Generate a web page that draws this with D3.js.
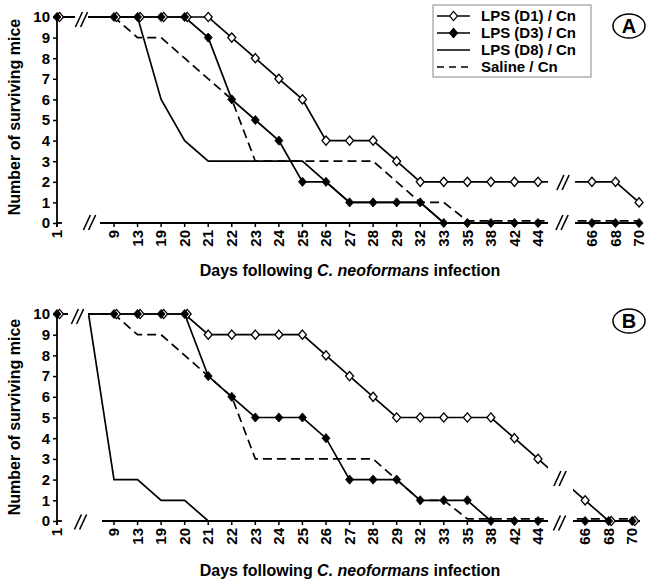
<!DOCTYPE html>
<html><head><meta charset="utf-8">
<script src="https://cdn.jsdelivr.net/npm/d3@7"></script>
<style>
body{margin:0;background:#fff}
svg{display:block}
text{font-family:"Liberation Sans",Arial,Helvetica,sans-serif;font-weight:bold;fill:#000}
</style>
</head><body>
<svg id="c" width="653" height="583"></svg>
<script>
// ---------- data ----------
const days = ["1","9","13","19","20","21","22","23","24","25","26","27","28","29","32","33","35","38","42","44","66","68","70"];
const yTicks = [0,1,2,3,4,5,6,7,8,9,10];
const seriesNames = ["LPS (D1) / Cn","LPS (D3) / Cn","LPS (D8) / Cn","Saline / Cn"];
const xTitle = ["Days following ","C. neoformans"," infection"];
const yTitle = "Number of surviving mice";

// Panel A
const aD1  = [10,10,10,10,10,10,9,8,7,6,4,4,4,3,2,2,2,2,2,2,2,2,1];
const aD3  = [10,10,10,10,10,9,6,5,4,2,2,1,1,1,1,0,0,0,0,0,0,0,0];
const aD8  = [10,10,10,6,4,3,3,3,3,3,2,1,1,1,1,0,0,0,0,0,0,0,0];
const aSal = [10,10,9,9,8,7,6,3,3,3,3,3,3,2,1,1,0.1,0.1,0.1,0.1,0.1,0.1,0.1];
// Panel B
const bD1  = [10,10,10,10,10,9,9,9,9,9,8,7,6,5,5,5,5,5,4,3,1,0,0];
const bD3  = [10,10,10,10,10,7,6,5,5,5,4,2,2,2,1,1,1,0,0,0,0,0,0];
const bD8  = [10,2,2,1,1,0,0,0,0,0,0,0,0,0,0,0,0,0,0,0,0,0,0];
const bSal = [10,10,9,9,8,7,6,3,3,3,3,3,3,2,1,1,0.1,0.1,0.1,0.1,0.1,0.1,0.1];

// ---------- layout ----------
const svg = d3.select("#c");
const xs = d3.scaleLinear().domain([0,18]).range([114,538]);
const AXIS_X = 57, AXIS_END = 640;
const panels = [
  {key:"A", d1:aD1, d3:aD3, d8:aD8, sal:aSal, yTop:17, yBot:223, rightOff:20.29,
   gapData:[75,88], gapAxis:[62,100], gapRight:[548,575],
   breaks:[[81.5,19.5],[89.5,222.5],[563,182.5],[562,222.5]],
   legend:true, labelY:26, titleY:276, yTitleY:117},
  {key:"B", d1:bD1, d3:bD3, d8:bD8, sal:bSal, yTop:314, yBot:521, rightOff:20.0,
   gapData:[68,88], gapAxis:[62,102], gapRight:[548,573],
   breaks:[[77.5,316.5],[80.5,522],[560,478.5],[559.5,523]],
   legend:false, labelY:321, titleY:576, yTitleY:417}
];

function slot(i, p){
  if (i === 0) return -2.42;
  if (i <= 19) return i - 1;
  return p.rightOff + (i - 20);
}
const HIDDEN_SLOT = -1.08;

const diamond = "M0,-4.6L4,0L0,4.6L-4,0Z";

panels.forEach(p => {
  const g = svg.append("g");
  const y = d3.scaleLinear().domain([0,10]).range([p.yBot, p.yTop]);
  const X = i => xs(slot(i,p));

  // clip for broken lines
  const cid = "clip"+p.key;
  const cp = g.append("clipPath").attr("id", cid);
  [[0,p.gapData[0]],[p.gapData[1],p.gapRight[0]],[p.gapRight[1],653]].forEach(([a,b])=>{
    cp.append("rect").attr("x",a).attr("y",p.yTop-20).attr("width",b-a).attr("height",p.yBot-p.yTop+40);
  });

  // y axis
  const yAx = d3.axisLeft(y).tickValues(yTicks).tickSize(4).tickPadding(3).tickSizeOuter(0);
  const ya = g.append("g").attr("transform",`translate(${AXIS_X},0)`).call(yAx);
  ya.select(".domain").remove();
  ya.selectAll("line").attr("stroke","#000").attr("stroke-width",1.5);
  ya.selectAll("text").style("font-size","15px").attr("fill","#000");
  g.append("line").attr("x1",AXIS_X).attr("x2",AXIS_X).attr("y1",p.yTop).attr("y2",p.yBot+4)
    .attr("stroke","#000").attr("stroke-width",1.8);

  // x axis line segments
  [[AXIS_X,p.gapAxis[0]],[p.gapAxis[1],p.gapRight[0]],[p.gapRight[1],AXIS_END]].forEach(([a,b])=>{
    g.append("line").attr("x1",a).attr("x2",b).attr("y1",p.yBot).attr("y2",p.yBot)
      .attr("stroke","#000").attr("stroke-width",1.8);
  });
  // x ticks + labels
  const xt = g.append("g").selectAll("g").data(days).join("g")
    .attr("transform",(d,i)=>`translate(${X(i)},${p.yBot})`);
  xt.append("line").attr("y1",0).attr("y2",4).attr("stroke","#000").attr("stroke-width",1.5);
  xt.append("text").attr("transform","translate(0,7) rotate(-90)")
    .attr("text-anchor","end").attr("dy","0.35em").style("font-size","15px").text(d=>d);

  // titles
  const tt = g.append("text").attr("x",350).attr("y",p.titleY).attr("text-anchor","middle").style("font-size","16px");
  tt.append("tspan").text(xTitle[0]);
  tt.append("tspan").style("font-style","italic").text(xTitle[1]);
  tt.append("tspan").text(xTitle[2]);
  g.append("text").attr("transform",`translate(20,${p.yTitleY}) rotate(-90)`)
    .attr("text-anchor","middle").style("font-size","16px").text(yTitle);

  // lines
  const lineGen = d3.line().x(d=>xs(d.s)).y(d=>y(d.v));
  const pts = vals => {
    const arr = vals.map((v,i)=>({s:slot(i,p), v}));
    arr.splice(1,0,{s:HIDDEN_SLOT, v:vals[0]});
    return arr;
  };
  const lg = g.append("g").attr("clip-path",`url(#${cid})`);
  const series = [
    {vals:p.d8, dash:null},
    {vals:p.sal, dash:"9,5"},
    {vals:p.d3, dash:null},
    {vals:p.d1, dash:null}
  ];
  series.forEach(s=>{
    lg.append("path").attr("d",lineGen(pts(s.vals))).attr("fill","none")
      .attr("stroke","#000").attr("stroke-width",1.7).attr("stroke-dasharray",s.dash);
  });

  // markers: D1 (open) under D3 (filled); where they coincide shift open slightly
  g.append("g").selectAll("path").data(p.d1).join("path")
    .attr("d",diamond)
    .attr("transform",(v,i)=>`translate(${X(i)+(p.d3[i]===v?2.5:0)},${y(v)})`)
    .attr("fill","#fff").attr("stroke","#000").attr("stroke-width",1.3);
  g.append("g").selectAll("path").data(p.d3).join("path")
    .attr("d",diamond)
    .attr("transform",(v,i)=>`translate(${X(i)},${y(v)})`)
    .attr("fill","#000").attr("stroke","#000").attr("stroke-width",0.8);

  // break marks
  p.breaks.forEach(([cx,cy])=>{
    [-2.6,2.6].forEach(d=>{
      g.append("line").attr("x1",cx+d-3.5).attr("y1",cy+7.5).attr("x2",cx+d+3.5).attr("y2",cy-7.5)
        .attr("stroke","#000").attr("stroke-width",1.6);
    });
  });

  // panel label
  g.append("ellipse").attr("cx",629).attr("cy",p.labelY).attr("rx",16).attr("ry",12)
    .attr("fill","none").attr("stroke","#000").attr("stroke-width",1.5);
  g.append("text").attr("x",629).attr("y",p.labelY).attr("dy","0.36em").attr("text-anchor","middle")
    .style("font-size","20px").text(p.key);

  // legend
  if (p.legend){
    const lgd = g.append("g");
    lgd.append("rect").attr("x",433).attr("y",5).attr("width",158).attr("height",72)
      .attr("fill","#fff").attr("stroke","#888").attr("stroke-width",1);
    const rowsY = [16,33,50,67];
    const styles = [{m:"open",dash:null},{m:"fill",dash:null},{m:null,dash:null},{m:null,dash:"7,5"}];
    seriesNames.forEach((n,k)=>{
      const ry = rowsY[k];
      lgd.append("line").attr("x1",437).attr("x2",470).attr("y1",ry).attr("y2",ry)
        .attr("stroke","#000").attr("stroke-width",1.7).attr("stroke-dasharray",styles[k].dash);
      if (styles[k].m){
        lgd.append("path").attr("d",diamond).attr("transform",`translate(453.5,${ry})`)
          .attr("fill",styles[k].m==="open"?"#fff":"#000").attr("stroke","#000").attr("stroke-width",1.2);
      }
      lgd.append("text").attr("x",481).attr("y",ry).attr("dy","0.36em").style("font-size","15px").text(n);
    });
  }
});
</script>
</body></html>
